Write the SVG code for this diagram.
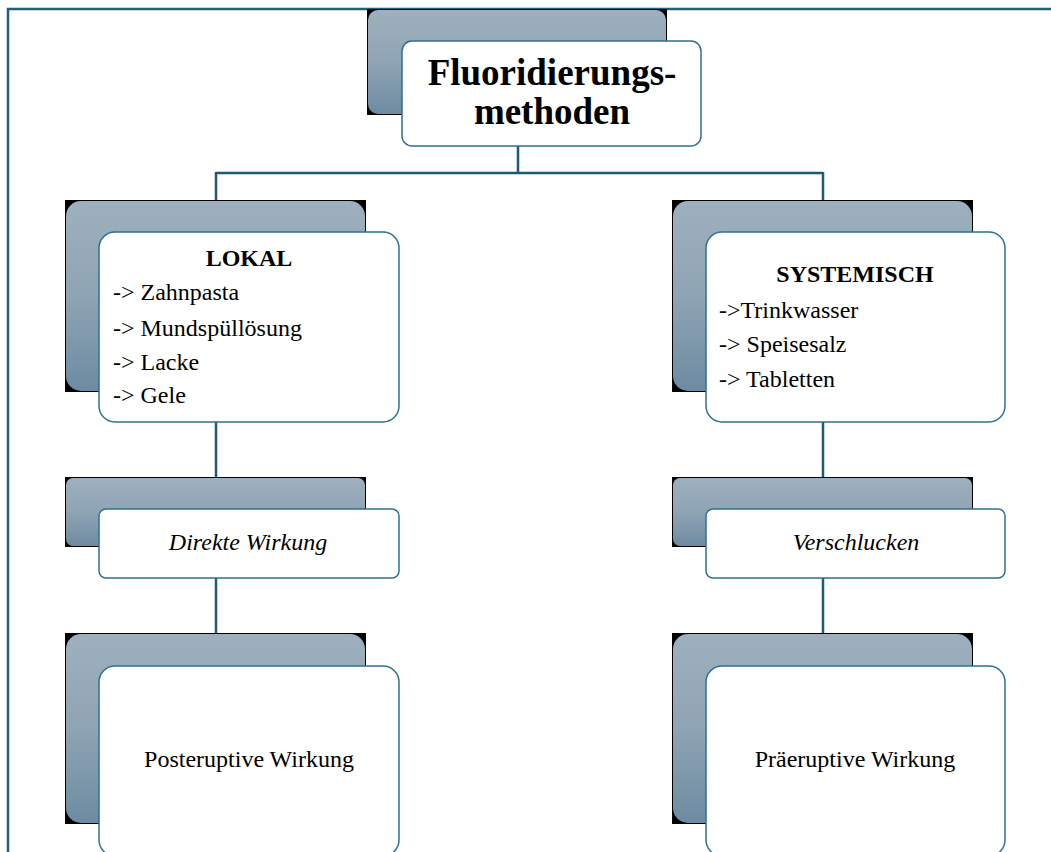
<svg xmlns="http://www.w3.org/2000/svg" width="1051" height="852" viewBox="0 0 1051 852">
<style>
.frame{fill:none;stroke:#1f5f80;stroke-width:2.5}
.conn{fill:none;stroke:#1f5a78;stroke-width:2.5}
.shadow{fill:#000}
.back{fill:url(#bg)}
.front{fill:#fff;stroke:#2f7091;stroke-width:1.5}
text{font-family:"Liberation Serif","Times New Roman",serif;fill:#000;font-size:24px}
.title{font-size:37px;font-weight:bold;text-anchor:middle}
.head{font-weight:bold;text-anchor:middle}
.mid{text-anchor:middle}
.it{font-style:italic;text-anchor:middle}
</style>
<defs>
<linearGradient id="bg" x1="0" y1="0" x2="0" y2="1">
<stop offset="0" stop-color="#9eb0bd"/>
<stop offset="0.5" stop-color="#8fa4b4"/>
<stop offset="1" stop-color="#6d8ba2"/>
</linearGradient>
</defs>
<rect width="1051" height="852" fill="#fff"/>
<path class="frame" d="M8,852 V9 H1051"/>
<g id="connectors">
<path class="conn" d="M518,146 V173"/>
<path class="conn" d="M216,173 H823"/>
<path class="conn" d="M216,172 V200"/>
<path class="conn" d="M823,172 V200"/>
<path class="conn" d="M216,422 V477"/>
<path class="conn" d="M216,578 V633"/>
<path class="conn" d="M823,422 V477"/>
<path class="conn" d="M823,578 V633"/>
</g>
<g id="node-title">
<rect class="shadow" x="367" y="9" width="300" height="106"/>
<rect class="back" x="368" y="10" width="298" height="104" rx="10"/>
<rect class="front" x="402" y="41" width="299" height="105" rx="10"/>
<text class="title" x="552" y="85">Fluoridierungs-</text>
<text class="title" x="552" y="124">methoden</text>
</g>
<g id="node-lokal">
<rect class="shadow" x="65" y="200" width="301" height="192"/>
<rect class="back" x="66" y="201" width="299" height="190" rx="15"/>
<rect class="front" x="99" y="232" width="300" height="190" rx="16"/>
<text class="head" x="249" y="266">LOKAL</text>
<text x="113" y="300">-&gt; Zahnpasta</text>
<text x="113" y="336">-&gt; Mundspüllösung</text>
<text x="113" y="370">-&gt; Lacke</text>
<text x="113" y="403">-&gt; Gele</text>
</g>
<g id="node-systemisch">
<rect class="shadow" x="672" y="200" width="301" height="192"/>
<rect class="back" x="673" y="201" width="299" height="190" rx="15"/>
<rect class="front" x="706" y="232" width="299" height="190" rx="16"/>
<text class="head" x="855" y="282">SYSTEMISCH</text>
<text x="719" y="318">-&gt;Trinkwasser</text>
<text x="719" y="352">-&gt; Speisesalz</text>
<text x="719" y="387">-&gt; Tabletten</text>
</g>
<g id="node-direkt">
<rect class="shadow" x="65" y="477" width="301" height="70"/>
<rect class="back" x="66" y="478" width="299" height="68" rx="7"/>
<rect class="front" x="99" y="509" width="300" height="69" rx="7"/>
<text class="it" x="248" y="550">Direkte Wirkung</text>
</g>
<g id="node-verschlucken">
<rect class="shadow" x="672" y="477" width="301" height="70"/>
<rect class="back" x="673" y="478" width="299" height="68" rx="7"/>
<rect class="front" x="706" y="509" width="299" height="69" rx="7"/>
<text class="it" x="856" y="550">Verschlucken</text>
</g>
<g id="node-posteruptiv">
<rect class="shadow" x="65" y="633" width="301" height="191"/>
<rect class="back" x="66" y="634" width="299" height="189" rx="15"/>
<rect class="front" x="99" y="666" width="300" height="190" rx="16"/>
<text class="mid" x="249" y="767">Posteruptive Wirkung</text>
</g>
<g id="node-praeeruptiv">
<rect class="shadow" x="672" y="633" width="301" height="191"/>
<rect class="back" x="673" y="634" width="299" height="189" rx="15"/>
<rect class="front" x="706" y="666" width="299" height="190" rx="16"/>
<text class="mid" x="855" y="767">Präeruptive Wirkung</text>
</g>
</svg>
